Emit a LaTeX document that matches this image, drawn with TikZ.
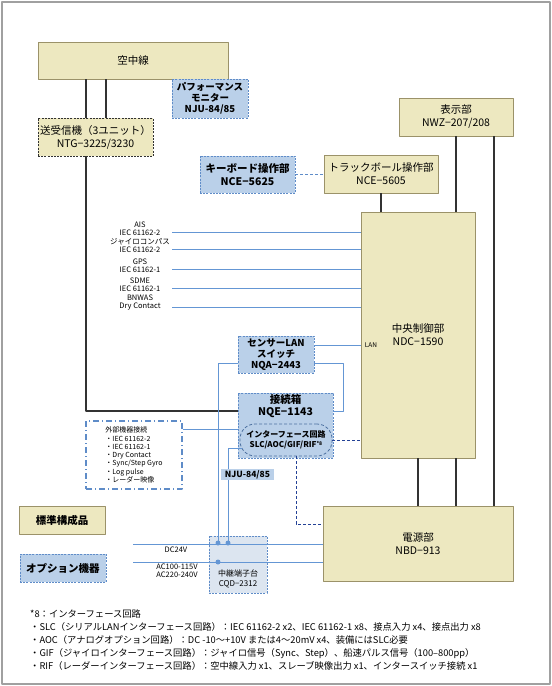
\documentclass[tikz,border=0pt]{standalone}
\usepackage{fontspec}
\setmainfont{Noto Sans CJK JP}
\usepackage{xcolor}
\usepackage{tikz}
\usetikzlibrary{positioning, calc}
\definecolor{rdBeige}{RGB}{237, 232, 192}
\definecolor{rdOlive}{RGB}{155, 146, 105}
\definecolor{rdBlue}{RGB}{186, 208, 233}
\definecolor{rdBlueEdge}{RGB}{95, 140, 200}
\definecolor{rdWire}{RGB}{100, 150, 212}
\definecolor{rdDark}{RGB}{50, 50, 50}
\definecolor{rdNavy}{RGB}{35, 65, 150}
\definecolor{rdRelay}{RGB}{220, 229, 240}
\definecolor{rdFrame}{RGB}{160, 160, 160}
\tikzset{
    base/.style={
        font=\fontsize{10.5}{13}\selectfont,
        align=center,
        inner sep=0pt,
        text=black
    },
    stdbox/.style={
        base,
        rectangle,
        draw=rdOlive,
        fill=rdBeige,
        line width=0.8pt
    },
    stddashed/.style={
        stdbox,
        draw=rdDark,
        dash pattern=on 2pt off 1.2pt
    },
    optbox/.style={
        base,
        rectangle,
        draw=rdBlueEdge,
        fill=rdBlue,
        line width=0.8pt,
        dash pattern=on 2pt off 1.2pt,
        font=\fontsize{10.5}{13}\selectfont\bfseries
    },
    ifcbox/.style={
        optbox,
        rounded corners=15pt,
        draw=rdBlueEdge!80!black,
        dash pattern=on 3pt off 2pt,
        font=\fontsize{8}{9.5}\selectfont\bfseries
    },
    relaybox/.style={
        optbox,
        fill=rdRelay
    },
    extbox/.style={
        base,
        rectangle,
        draw=rdBlueEdge,
        fill=white,
        line width=1.3pt,
        dash pattern=on 6pt off 3pt on 1pt off 3pt,
        font=\fontsize{7}{8.3}\selectfont,
        align=left
    },
    smalltext/.style={
        base,
        font=\fontsize{7.5}{8}\selectfont
    },
    link/.style={
        draw=rdDark,
        line width=1.1pt
    },
    sig/.style={
        draw=rdWire,
        line width=0.8pt
    },
    ctl/.style={
        draw=rdNavy,
        line width=1pt,
        dash pattern=on 3pt off 2pt
    },
    junction/.style={
        circle,
        fill=rdWire,
        inner sep=0pt,
        minimum size=5pt
    }
}

\begin{document}
\begin{tikzpicture}[x=1pt, y=-1pt, line join=round]
    \useasboundingbox (0,0) rectangle (552,686);
    % Frame
    \draw[rdFrame, line width=1.5pt] (2,2) rectangle (550,684);

    % Units
    \node[stdbox, minimum width=190, minimum height=37] (ant) at (133,60.5) {空中線};
    \node[optbox, minimum width=76, minimum height=39, font=\fontsize{9.5}{11}\selectfont\bfseries] (perf) at (210,98.5) {パフォーマンス\\モニター\\NJU-84/85};
    \node[stddashed, minimum width=115, minimum height=38] (trx) at (95.5,137) {送受信機（3ユニット）\\NTG−3225/3230};
    \node[optbox, minimum width=95, minimum height=37] (kbd) at (247.5,174.5) {キーボード操作部\\NCE−5625};
    \node[stdbox, minimum width=114, minimum height=38] (trk) at (381,174) {トラックボール操作部\\NCE−5605};
    \node[stdbox, minimum width=114, minimum height=38] (disp) at (456,117) {表示部\\NWZ−207/208};
    \node[stdbox, minimum width=114, minimum height=246] (ctrl) at (418,335) {中央制御部\\NDC−1590};
    \node[optbox, minimum width=76, minimum height=37, font=\fontsize{9.5}{11}\selectfont\bfseries] (lan) at (276,354.5) {センサーLAN\\スイッチ\\NQA−2443};
    \node[optbox, minimum width=95, minimum height=65,
        label={[base, font=\fontsize{10.5}{12}\selectfont\bfseries, anchor=north, yshift=-2pt]north:{接続箱\\NQE−1143}}] (jbox) at (285.5,425.5) {};
    \node[ifcbox, minimum width=92, minimum height=32] (ifc) at (286,440) {インターフェース回路\\SLC/AOC/GIF/RIF\raisebox{2pt}{\fontsize{5}{5}\selectfont *8}};
    \node[extbox, minimum width=96, minimum height=68] (ext) at (134,455) {外部機器接続\\・IEC 61162-2\\・IEC 61162-1\\・Dry Contact\\・Sync/Step Gyro\\・Log pulse\\・レーダー映像};
    \node[stdbox, minimum width=190, minimum height=75] (psu) at (418,543.5) {電源部\\NBD−913};
    \node[relaybox, minimum width=58, minimum height=57,
        label={[base, font=\fontsize{8}{10}\selectfont, anchor=south, yshift=5pt]south:{中継端子台\\CQD−2312}}] (relay) at (238,564.5) {};

    % Legend
    \node[stdbox, minimum width=86, minimum height=28, font=\fontsize{10.5}{13}\selectfont\bfseries] (std) at (62,520) {標準構成品};
    \node[optbox, minimum width=86, minimum height=28] (opt) at (63,568) {オプション機器};

    % Junctions on the relay terminal
    \node[junction] (dcA) at (218,543) {};
    \node[junction] (dcB) at (228,543) {};
    \node[junction] (acA) at (218,562) {};

    % Antenna and transceiver
    \draw[link] ([xshift=-9.5pt]trx.north) -- ([xshift=-9.5pt]trx.north |- ant.south);
    \draw[link] ([xshift=10.5pt]trx.north) -- ([xshift=10.5pt]trx.north |- ant.south);
    \draw[link] ([xshift=-9.5pt]trx.south) |- ([yshift=14.5pt]jbox.west);

    % Display and processor
    \draw[link] (disp.south) -- (disp.south |- ctrl.north);
    \draw[link] ([xshift=38pt]disp.south) -- ([xshift=38pt]disp.south |- psu.north);
    \draw[link] (trk.south) -- (trk.south |- ctrl.north);
    \draw[link] (ctrl.south) -- (psu.north);
    \draw[link] ([xshift=38pt]ctrl.south) -- ([xshift=38pt]ctrl.south |- psu.north);
    \draw[rdBlueEdge, line width=0.9pt, dash pattern=on 3pt off 2pt] (kbd.east) -- (kbd.east -| trk.west);

    % Sensor inputs
    \coordinate (ais) at (172,232);
    \coordinate (gyro) at (172,249);
    \coordinate (gps) at (172,269);
    \coordinate (sdme) at (172,288);
    \coordinate (bnwas) at (172,307);
    \node[smalltext, anchor=south] (aisTxt) at (140,235.5) {AIS\\IEC 61162-2};
    \node[smalltext, anchor=south] (gyroTxt) at (140,252.5) {ジャイロコンパス\\IEC 61162-2};
    \node[smalltext, anchor=south] (gpsTxt) at (140,272.5) {GPS\\IEC 61162-1};
    \node[smalltext, anchor=south] (sdmeTxt) at (140,291.5) {SDME\\IEC 61162-1};
    \node[smalltext, anchor=south] (bnwasTxt) at (140,310.5) {BNWAS\\Dry Contact};
    \draw[sig] (ais) -- (ais -| ctrl.west);
    \draw[sig] (gyro) -- (gyro -| ctrl.west);
    \draw[sig] (gps) -- (gps -| ctrl.west);
    \draw[sig] (sdme) -- (sdme -| ctrl.west);
    \draw[sig] (bnwas) -- (bnwas -| ctrl.west);

    % Sensor LAN
    \draw[sig] ([yshift=9.5pt]lan.east) -- ([yshift=9.5pt]lan.east -| ctrl.west);
    \node[smalltext, anchor=west, font=\fontsize{6.5}{7}\selectfont] (lanTxt) at ([xshift=4pt, yshift=-10pt]ctrl.west) {LAN};
    \draw[sig] ([yshift=-8.5pt]lan.east) -- ++(29,0) |- ([yshift=14.5pt]jbox.east);
    \draw[sig] ([yshift=-8.5pt]lan.west) -| (dcA.center);
    \draw[sig] ([xshift=2pt, yshift=-8pt]ifc.west) -| (dcB.center);
    \draw[sig] ([yshift=26pt]ext.east) -- ([yshift=26pt]ext.east -| jbox.west);

    % Power
    \coordinate (dcIn) at (133,544);
    \coordinate (acIn) at (133,562);
    \draw[sig] (dcIn) -- (dcIn -| psu.west);
    \draw[sig] (acIn) -- (acIn -| psu.west);
    \node[smalltext, anchor=north] (dcTxt) at (176,546.5) {DC24V};
    \node[smalltext, anchor=north] (acTxt) at (177,563.5) {AC100-115V\\AC220-240V};

    % Interface circuit control
    \draw[ctl] (ifc.east) -- (ifc.east -| ctrl.west);
    \draw[ctl] ([xshift=10pt]ifc.south) |- ([yshift=19.5pt]psu.west);

    \node[base, fill=rdBlue, font=\fontsize{8.5}{10}\selectfont\bfseries, minimum width=53, minimum height=11] (nju) at (247.5,474.5) {NJU-84/85};

    % Notes
    \node[base, font=\fontsize{9.3}{13}\selectfont, align=left, anchor=north west] (note) at (30,609) {*8：インターフェース回路\\
        ・SLC（シリアルLANインターフェース回路）：IEC 61162-2 x2、IEC 61162-1 x8、接点入力 x4、接点出力 x8\\
        ・AOC（アナログオプション回路）：DC -10～+10V または4～20mV x4、装備にはSLC必要\\
        ・GIF（ジャイロインターフェース回路）：ジャイロ信号（Sync、Step）、船速パルス信号（100–800pp）\\
        ・RIF（レーダーインターフェース回路）：空中線入力 x1、スレーブ映像出力 x1、インタースイッチ接続 x1};
\end{tikzpicture}
\end{document}
